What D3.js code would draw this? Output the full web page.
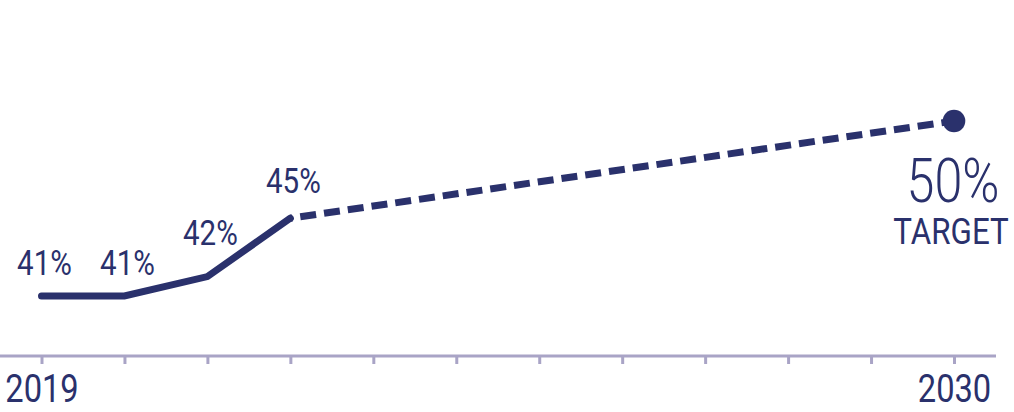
<!DOCTYPE html>
<html>
<head>
<meta charset="utf-8">
<script src="https://cdn.jsdelivr.net/npm/d3@7"></script>
<style>
  body { margin: 0; background: #fff; }
  text { font-family: "Roboto", sans-serif; font-weight: 400; fill: #2a316c; }
</style>
</head>
<body>
<div id="chart"></div>
<script>
// Data
var years = [2019, 2020, 2021, 2022];
var shares = [41, 41, 42, 45];
var targetYear = 2030;
var targetShare = 50;
var tickYears = d3.range(2019, 2031);
var labelledYears = [2019, 2030];

var width = 1014, height = 412;
var navy = "#2a316c", lilac = "#a9a4c6";

var svg = d3.select("#chart")
  .append("svg")
    .attr("width", width)
    .attr("height", height);

var x = d3.scaleLinear().domain([2019, 2030]).range([41.5, 954]);
var y = d3.scaleLinear().domain([41, 50]).range([296, 121]);

// the reference uses a narrow DIN-like face, so squeeze Roboto horizontally
function place(px, py, k) {
  return "translate(" + px + "," + py + ") scale(" + k + ",1)";
}

// Axis
svg.append("line")
  .attr("x1", 0).attr("x2", 996)
  .attr("y1", 356).attr("y2", 356)
  .attr("stroke", lilac)
  .attr("stroke-width", 3);

var axis = svg.append("g")
  .attr("transform", "translate(0,356)")
  .call(d3.axisBottom(x)
    .tickValues(tickYears)
    .tickSize(8)
    .tickSizeOuter(0)
    .tickPadding(0)
    .tickFormat(function(d) { return labelledYears.indexOf(d) >= 0 ? d : ""; }));
axis.select(".domain").remove();
axis.selectAll(".tick line").attr("stroke", lilac).attr("stroke-width", 3);
axis.selectAll(".tick text")
  .attr("fill", navy)
  .attr("y", null)
  .attr("dy", null)
  .attr("transform", place(0, 46, 0.86))
  .style("font-size", "38px");

var actual = years.map(function(d, i) { return [d, shares[i]]; });
var line = d3.line()
  .x(function(d) { return x(d[0]); })
  .y(function(d) { return y(d[1]); });

// Projection to target (dashed)
svg.append("path")
  .datum([actual[actual.length - 1], [targetYear, targetShare]])
  .attr("d", line)
  .attr("fill", "none")
  .attr("stroke", navy)
  .attr("stroke-width", 7)
  .attr("stroke-dasharray", "16,8")
  .attr("stroke-dashoffset", 14);

// Actual values (solid)
svg.append("path")
  .datum(actual)
  .attr("d", line)
  .attr("fill", "none")
  .attr("stroke", navy)
  .attr("stroke-width", 7)
  .attr("stroke-linecap", "round")
  .attr("stroke-linejoin", "miter");

svg.append("circle")
  .attr("cx", x(targetYear))
  .attr("cy", y(targetShare))
  .attr("r", 11.3)
  .attr("fill", navy);

// Value labels (lifted clear of the line)
var lift = [21, 21, 32, 25];
svg.selectAll(".value")
  .data(actual)
  .join("text")
    .attr("class", "value")
    .attr("transform", function(d, i) { return place(x(d[0]) + 3, y(d[1]) - lift[i], 0.82); })
    .attr("text-anchor", "middle")
    .style("font-size", "36px")
    .text(function(d) { return d[1] + "%"; });

svg.append("text")
  .attr("transform", place(x(targetYear) - 1, 202, 0.81))
  .attr("text-anchor", "middle")
  .style("font-size", "62px")
  .style("font-weight", 300)
  .text(targetShare + "%");

svg.append("text")
  .attr("transform", place(x(targetYear) - 3, 244, 0.87))
  .attr("text-anchor", "middle")
  .style("font-size", "36px")
  .text("TARGET");
</script>
</body>
</html>
